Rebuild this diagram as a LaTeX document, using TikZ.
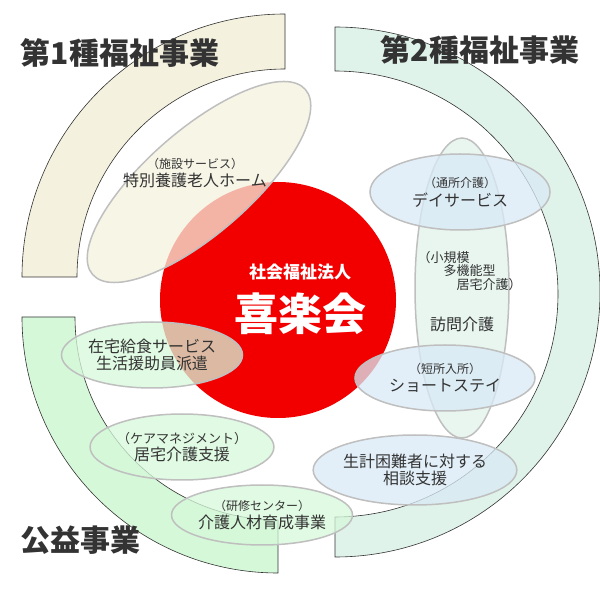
\documentclass[tikz,border=0pt]{standalone}
\usepackage{fontspec}
\setmainfont{Noto Sans CJK JP}
\usetikzlibrary{shapes.geometric}
\definecolor{ink}{HTML}{333333}
\definecolor{bandone}{HTML}{F4F1DE}
\definecolor{bandtwo}{HTML}{E0F3EA}
\definecolor{bandpub}{HTML}{D5F8D9}
\definecolor{skyfill}{HTML}{D9EAF6}
\newcommand{\fs}[1]{\fontsize{#1}{#1}\selectfont}

\begin{document}
\begin{tikzpicture}[x=1pt,y=1pt]
\tikzstyle{every node}=[text=ink]
\tikzstyle{band}=[draw=black!80, line width=0.6pt]
\tikzstyle{bubble}=[ellipse, draw=black!25, line width=1.5pt, inner sep=0pt, align=center, fill opacity=0.75, text opacity=1]
\tikzstyle{title}=[font=\fs{30}\bfseries]
\useasboundingbox (0,0) rectangle (600,600);

% bands
\draw[band, fill=bandone] (285,586) arc[start angle=90, end angle=180, radius=263]
  -- (77,323) arc[start angle=180, end angle=90, radius=208] -- cycle;
\draw[band, fill=bandtwo] (335,573) arc[start angle=90, end angle=-90, radius=265]
  -- (335,83) arc[start angle=-90, end angle=90, radius=223] -- cycle;
\draw[band, fill=bandpub] (22,283) arc[start angle=180, end angle=270, radius=256]
  -- (278,80) arc[start angle=270, end angle=180, radius=203] -- cycle;

% centre
\node[circle, fill=red!95!black, minimum size=236pt] at (278,300) (core) {};

% bubbles
\node[bubble, fill=bandone, minimum width=282pt, minimum height=104pt, rotate=41] at (199,418) (home) {};
\node[align=center] at (195,427) (homet) {\fs{12}（施設サービス）\\[2pt]\fs{16}特別養護老人ホーム};

\node[bubble, fill=bandtwo, minimum width=94pt, minimum height=300pt] at (462,312) (visit) {};
\node[align=left, anchor=north west] at (414,352) (visitt) {\fs{13}（小規模\\\fs{13}\hspace{2em}多機能型\\\fs{13}\hspace{3em}居宅介護）};
\node at (462,276) (visitm) {\fs{16}訪問介護};

\node[bubble, fill=skyfill, minimum width=180pt, minimum height=76pt] at (460,408) (day)
  {\fs{12}（通所介護）\\[3pt]\fs{16}デイサービス};
\node[bubble, fill=skyfill, minimum width=180pt, minimum height=66pt] at (445,222) (short)
  {\fs{12}（短所入所）\\[3pt]\fs{16}ショートステイ};
\node[bubble, fill=skyfill, minimum width=180pt, minimum height=70pt] at (415,130) (advice)
  {\fs{16}生計困難者に対する\\[1pt]\fs{16}相談支援};

\node[bubble, fill=bandpub, minimum width=176pt, minimum height=66pt] at (152,245) (meal)
  {\fs{16}在宅給食サービス\\[1pt]\fs{16}生活援助員派遣};
\node[bubble, fill=bandpub, minimum width=160pt, minimum height=66pt] at (182,153) (care)
  {\fs{13}（ケアマネジメント）\\[2pt]\fs{16}居宅介護支援};
\node[bubble, fill=bandpub, minimum width=176pt, minimum height=60pt] at (262,85) (train)
  {\fs{12}（研修センター）\\[2pt]\fs{16}介護人材育成事業};

% labels
\node[text=white, font=\fs{17}\bfseries] at (300,328) (corp) {社会福祉法人};
\node[text=white, font=\fs{44}\bfseries] at (300,286) (name) {喜楽会};

\node[title] at (120,547) (first) {第1種福祉事業};
\node[title] at (480,550) (second) {第2種福祉事業};
\node[title] at (80,60) (public) {公益事業};

\end{tikzpicture}
\end{document}
